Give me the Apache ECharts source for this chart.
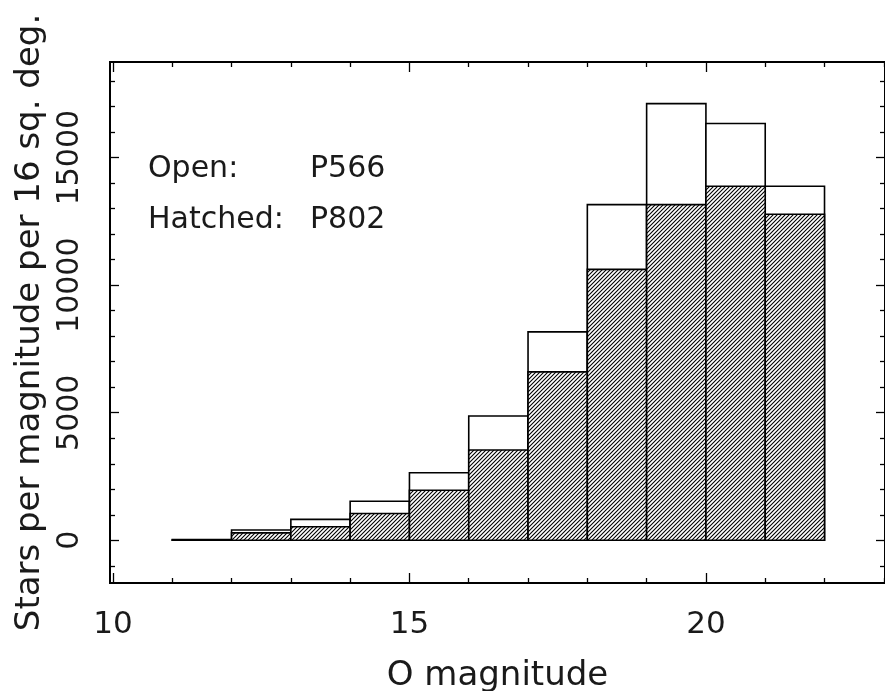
<!DOCTYPE html>
<html>
<head>
<meta charset="utf-8">
<title>O magnitude counts</title>
<script src="https://cdn.jsdelivr.net/npm/echarts@6/dist/echarts.min.js"></script>
<style>
html, body { margin: 0; padding: 0; background: #fff; }
#main { width: 885px; height: 691px; }
</style>
</head>
<body>
<div id="main"></div>
<script>
// bins are one magnitude wide, lower edges below
const binLo = [11, 12, 13, 14, 15, 16, 17, 18, 19, 20, 21]
const binWidth = 1
// open histogram (P566)
const openCounts = [25, 400, 820, 1530, 2650, 4870, 8170, 13160, 17120, 16340, 13880]
// hatched histogram (P802)
const hatchedCounts = [10, 290, 530, 1050, 1960, 3540, 6600, 10620, 13160, 13880, 12780]

const xMajorTicks = [10, 15, 20]
const xMinorTicks = [11, 12, 13, 14, 16, 17, 18, 19, 21, 22, 23]
const yMajorTicks = [0, 5000, 10000, 15000]
const yMinorTicks = [-1000, 1000, 2000, 3000, 4000, 6000, 7000, 8000, 9000, 11000, 12000, 13000, 14000, 16000, 17000, 18000]

const X_MIN = 9.95
const X_MAX = 23.02
const Y_MIN = -1675
const Y_MAX = 18750

const FONT = '"DejaVu Sans", sans-serif'
const INK = '#1a1a1a'

// diagonal hatch tile
const hatch = (() => {
  const c = document.createElement('canvas')
  c.width = 4
  c.height = 4
  const ctx = c.getContext('2d')
  ctx.fillStyle = '#fff'
  ctx.fillRect(0, 0, 4, 4)
  ctx.strokeStyle = '#000'
  ctx.lineWidth = 1.1
  ctx.beginPath()
  ctx.moveTo(-1, 5); ctx.lineTo(5, -1)
  ctx.moveTo(-1, 1); ctx.lineTo(1, -1)
  ctx.moveTo(3, 5); ctx.lineTo(5, 3)
  ctx.stroke()
  return c
})()

const toBins = (counts) => binLo.map((lo, i) => [lo, lo + binWidth, counts[i]])

const barRenderer = (fill) => (params, api) => {
  const topLeft = api.coord([api.value(0), api.value(2)])
  const bottomRight = api.coord([api.value(1), 0])
  return {
    type: 'rect',
    shape: {
      x: topLeft[0],
      y: topLeft[1],
      width: bottomRight[0] - topLeft[0],
      height: bottomRight[1] - topLeft[1]
    },
    style: {
      fill: fill,
      stroke: '#000',
      lineWidth: 1.6
    }
  }
}

const xAxisBase = (position, ticks, len, labels) => ({
  type: 'value',
  position: position,
  min: X_MIN,
  max: X_MAX,
  axisLine: { show: false, onZero: false },
  splitLine: { show: false },
  axisTick: {
    show: true,
    inside: true,
    length: len,
    customValues: ticks,
    lineStyle: { color: '#000', width: 1.3 }
  },
  axisLabel: labels ? {
    show: true,
    customValues: ticks,
    margin: 26,
    fontFamily: FONT,
    fontSize: 31,
    color: INK
  } : { show: false }
})

const yAxisBase = (position, ticks, len, labels) => ({
  type: 'value',
  position: position,
  min: Y_MIN,
  max: Y_MAX,
  axisLine: { show: false, onZero: false },
  splitLine: { show: false },
  axisTick: {
    show: true,
    inside: true,
    length: len,
    customValues: ticks,
    lineStyle: { color: '#000', width: 1.3 }
  },
  axisLabel: labels ? {
    show: true,
    customValues: ticks,
    rotate: 90,
    margin: 25,
    fontFamily: FONT,
    fontSize: 30,
    color: INK,
    formatter: (v) => String(v)
  } : { show: false }
})

const chart = echarts.init(document.getElementById('main'), null, { renderer: 'canvas' })

const xMain = xAxisBase('bottom', xMajorTicks, 10, true)
xMain.name = 'O magnitude'
xMain.nameLocation = 'middle'
xMain.nameGap = 76
xMain.nameTextStyle = { fontFamily: FONT, fontSize: 34, color: INK }

const yMain = yAxisBase('left', yMajorTicks, 9, true)
yMain.name = 'Stars per magnitude per 16 sq. deg.'
yMain.nameLocation = 'middle'
yMain.nameRotate = 90
yMain.nameGap = 62
yMain.nameTextStyle = { fontFamily: FONT, fontSize: 34, color: INK }

const option = {
  backgroundColor: '#ffffff',
  animation: false,
  grid: {
    left: 110,
    right: 0,
    top: 62,
    bottom: 108,
    outerBoundsMode: 'none',
    containLabel: false,
    show: true,
    borderColor: '#000',
    borderWidth: 2,
    backgroundColor: 'transparent'
  },
  xAxis: [
    xMain,
    xAxisBase('bottom', xMinorTicks, 5, false),
    xAxisBase('top', xMajorTicks, 10, false),
    xAxisBase('top', xMinorTicks, 5, false)
  ],
  yAxis: [
    yMain,
    yAxisBase('left', yMinorTicks, 5, false),
    yAxisBase('right', yMajorTicks, 9, false),
    yAxisBase('right', yMinorTicks, 5, false)
  ],
  graphic: [
    { type: 'text', left: 148, top: 154, style: { text: 'Open:', font: '30px ' + FONT, fill: INK, textVerticalAlign: 'middle' } },
    { type: 'text', left: 310, top: 154, style: { text: 'P566', font: '30px ' + FONT, fill: INK, textVerticalAlign: 'middle' } },
    { type: 'text', left: 148, top: 205, style: { text: 'Hatched:', font: '30px ' + FONT, fill: INK, textVerticalAlign: 'middle' } },
    { type: 'text', left: 310, top: 205, style: { text: 'P802', font: '30px ' + FONT, fill: INK, textVerticalAlign: 'middle' } }
  ],
  series: [
    {
      name: 'P566',
      type: 'custom',
      xAxisIndex: 0,
      yAxisIndex: 0,
      renderItem: barRenderer('#ffffff'),
      encode: { x: [0, 1], y: 2 },
      data: toBins(openCounts),
      silent: true
    },
    {
      name: 'P802',
      type: 'custom',
      xAxisIndex: 0,
      yAxisIndex: 0,
      renderItem: barRenderer({ image: hatch, repeat: 'repeat' }),
      encode: { x: [0, 1], y: 2 },
      data: toBins(hatchedCounts),
      silent: true
    }
  ]
}

chart.setOption(option)
</script>
</body>
</html>
